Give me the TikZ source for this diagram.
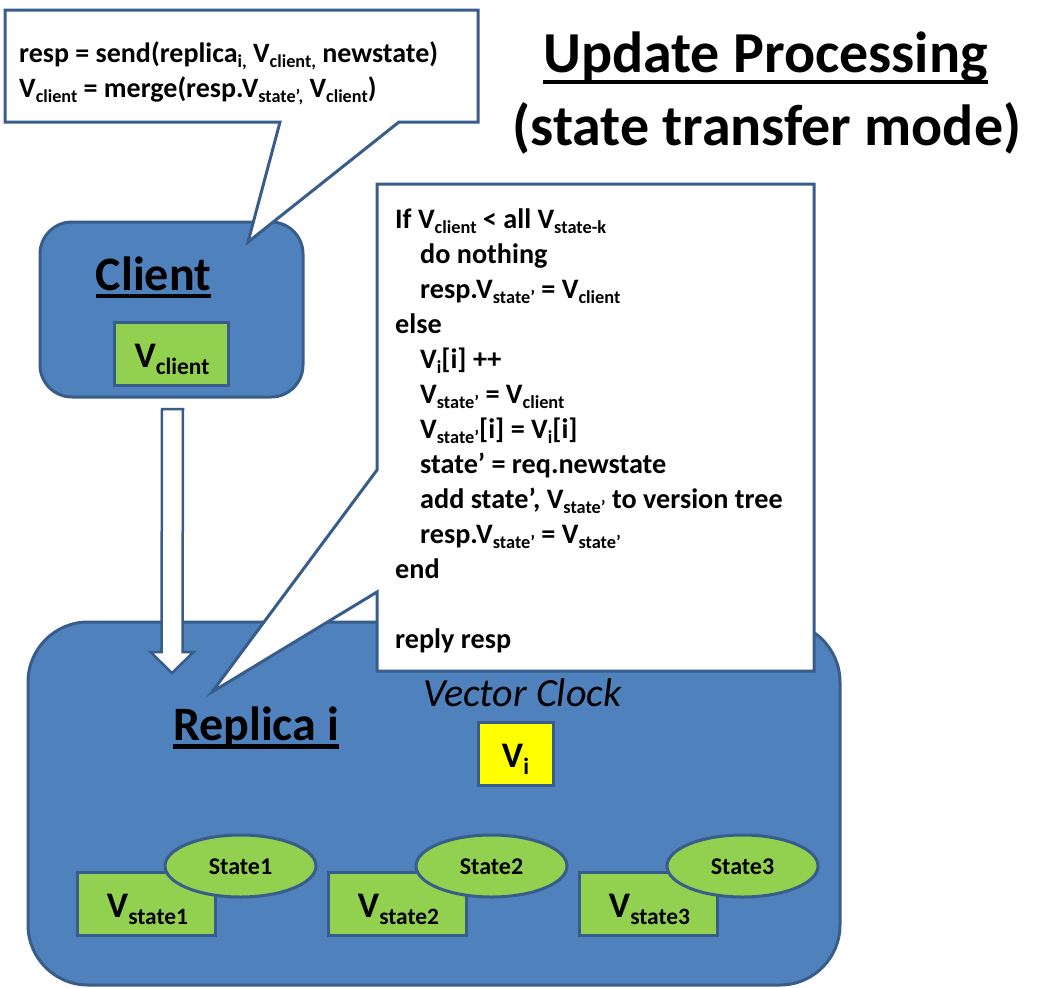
\documentclass[tikz,border=0pt]{standalone}
\usepackage{fontspec}
\setmainfont{Carlito}
\usetikzlibrary{shapes.geometric,calc}
\definecolor{pblue}{HTML}{4F81BD}
\definecolor{pline}{HTML}{385D8A}
\definecolor{pgreen}{HTML}{92D050}
\definecolor{pyellow}{HTML}{FFFF00}
\makeatletter
\newcommand\sbs[1]{\raisebox{-0.2em}{\fontsize{\dimexpr0.65\dimexpr\f@size pt\relax\relax}{0pt}\selectfont #1}}
\makeatother
\newcommand\fs[1]{\fontsize{#1}{#1}\selectfont}
\begin{document}
\begin{tikzpicture}[x=1pt,y=-1pt,
  panel/.style={draw=pline,fill=pblue,line width=3pt,inner sep=0pt},
  greenbox/.style={draw=pline,fill=pgreen,line width=3pt,inner sep=0pt},
  yellowbox/.style={draw=pline,fill=pyellow,line width=3pt,inner sep=0pt},
  greenoval/.style={ellipse,draw=pline,fill=pgreen,line width=3pt,inner sep=0pt,minimum width=151pt,minimum height=62pt},
  callout/.style={draw=pline,fill=white,line width=3pt,line join=miter},
  hollowarrow/.style={draw=pline,fill=white,line width=2.5pt,line join=miter},
  txt/.style={inner sep=0pt,anchor=base west},
  ctxt/.style={inner sep=0pt,anchor=base},
  cone/.style={txt,font=\bfseries\fs{28}},
  ctwo/.style={txt,font=\bfseries\fs{28.2}},
  uline/.style={line width=4pt}]
\useasboundingbox (0,0) rectangle (1055,988);

% Replica panel
\node[panel,rounded corners=60pt,minimum width=812pt,minimum height=363pt] (replica) at (434,803.5) {};

% hollow arrow client -> replica
\coordinate (atop) at (172.5,409);
\coordinate (atip) at (172,673);
\draw[hollowarrow] ($(atop)+(-10.5,0)$) -- ($(atop)+(10.5,0)$) -- ($(atip)+(10.5,-21)$) -- ($(atip)+(21.5,-21)$) -- (atip) -- ($(atip)+(-21.5,-21)$) -- ($(atip)+(-10.5,-21)$) -- cycle;

% Replica contents
\node[ctxt,font=\bfseries\fs{48}] (reptitle) at (256,740) {Replica i};
\draw[uline,line width=4.5pt] ($(reptitle.base west)+(0,6.5)$) -- ($(reptitle.base east)+(0,6.5)$);
\node[ctxt,font=\itshape\fs{40}] (vclock) at (522.5,706) {Vector Clock};
\node[yellowbox,minimum width=75pt,minimum height=63pt] (vibox) at (515.5,753.5) {};
\node[ctxt,font=\bfseries\fs{36}] (vitext) at (515.5,767) {V\sbs{i}};

\foreach \k in {1,2,3}{
  \pgfmathsetmacro{\dx}{(\k-1)*251}
  \node[greenbox,minimum width=138pt,minimum height=63pt] (vs\k) at (146+\dx,903.5) {};
  \node[ctxt,font=\bfseries\fs{36}] (vst\k) at (147.5+\dx,917) {V\sbs{state\k}};
  \node[greenoval] (st\k) at (240.5+\dx,866) {};
  \node[ctxt,font=\bfseries\fs{24}] (stt\k) at (240.5+\dx,874) {State\k};
}

% Callout 2 (replica logic)
\coordinate (tip2) at (212,692);
\draw[callout] (377,184) -- (814,184) -- (814,671) -- (377,671) -- (377,592) -- (tip2) -- (377,470) -- cycle;
\node[ctwo] (r1) at (395,228) {If V\sbs{client} < all V\sbs{state-k}};
\node[ctwo] (r2) at (420,263) {do nothing};
\node[ctwo] (r3) at (420,298) {resp.V\sbs{state’} = V\sbs{client}};
\node[ctwo] (r4) at (395,333) {else};
\node[ctwo] (r5) at (420,368) {V\sbs{i}[i] ++};
\node[ctwo] (r6) at (420,403) {V\sbs{state’} = V\sbs{client}};
\node[ctwo] (r7) at (420,438) {V\sbs{state’}[i] = V\sbs{i}[i]};
\node[ctwo] (r8) at (420,473) {state’ = req.newstate};
\node[ctwo] (r9) at (420,508) {add state’, V\sbs{state’} to version tree};
\node[ctwo] (r10) at (420,543) {resp.V\sbs{state’} = V\sbs{state’}};
\node[ctwo] (r11) at (395,578) {end};
\node[ctwo] (r12) at (395,648) {reply resp};

% Client panel
\node[panel,rounded corners=32pt,minimum width=263pt,minimum height=175pt] (client) at (171.5,309.5) {};
\node[ctxt,font=\bfseries\fs{48}] (cltitle) at (153.5,290) {Client};
\draw[uline] ($(cltitle.base west)+(0,6)$) -- ($(cltitle.base east)+(0,6)$);
\node[greenbox,minimum width=114pt,minimum height=63pt] (vcbox) at (171.5,353.5) {};
\node[ctxt,font=\bfseries\fs{36}] (vctext) at (172,367) {V\sbs{client}};

% Callout 1 (client logic)
\coordinate (tip1) at (248,242);
\draw[callout] (5,10) -- (478,10) -- (478,122) -- (399,122) -- (tip1) -- (280,122) -- (5,122) -- cycle;
\node[cone] (c1) at (19,62) {resp = send(replica\sbs{i,} V\sbs{client,} newstate)};
\node[cone] (c2) at (19,97) {V\sbs{client} = merge(resp.V\sbs{state’,} V\sbs{client})};

% Title
\node[ctxt,font=\bfseries\fs{58}] (title1) at (765.5,72) {Update Processing};
\draw[uline] ($(title1.base west)+(0,10)$) -- ($(title1.base east)+(0,10)$);
\node[ctxt,font=\bfseries\fs{58}] (title2) at (767,145) {(state transfer mode)};
\end{tikzpicture}
\end{document}
